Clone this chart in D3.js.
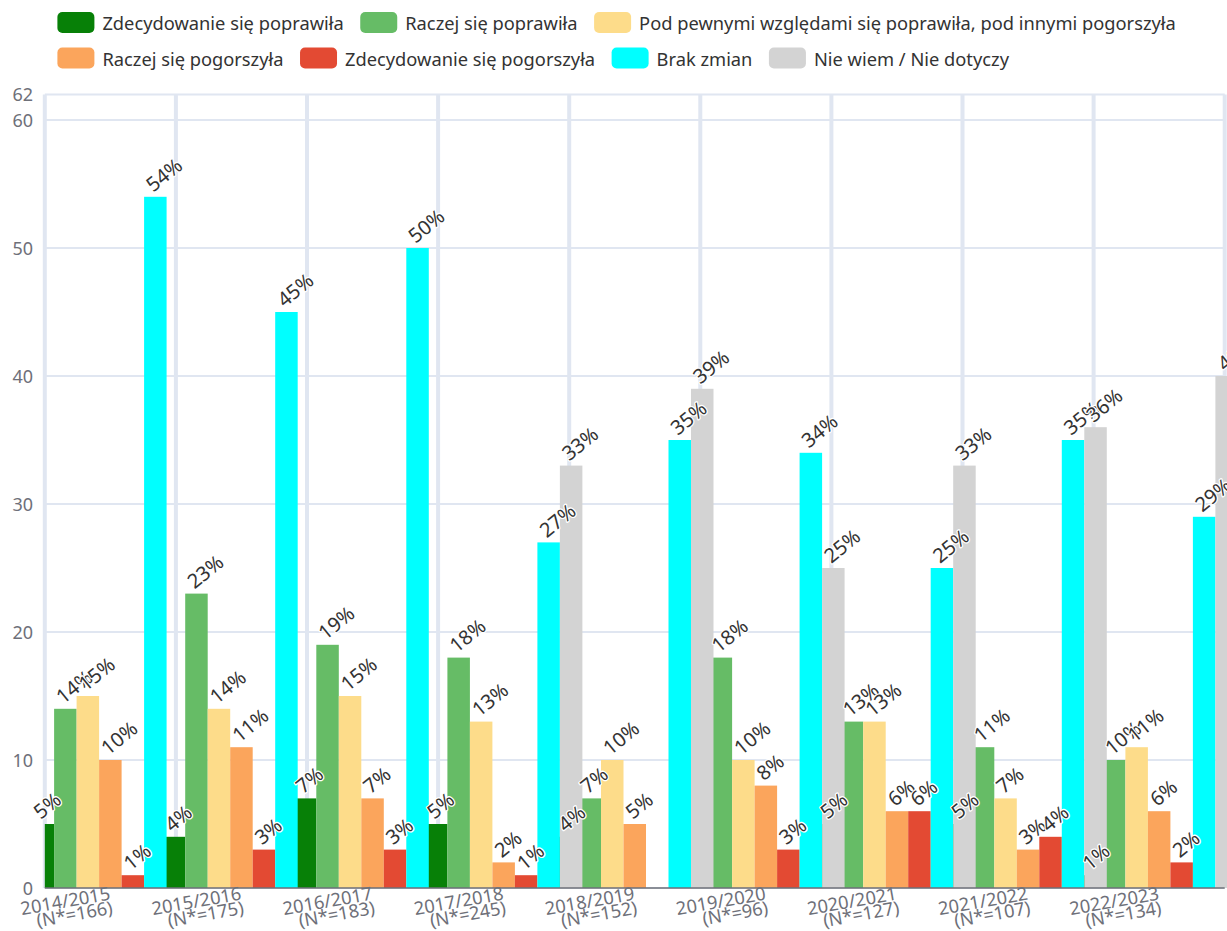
<!DOCTYPE html>
<html>
<head>
<meta charset="utf-8">
<script src="https://cdn.jsdelivr.net/npm/d3@7/dist/d3.min.js"></script>
<style>
  html, body { margin: 0; padding: 0; background: #ffffff; }
  svg { display: block; }
  text { font-family: "Noto Sans", "Open Sans", sans-serif; }
</style>
</head>
<body>
<svg id="chart" width="1227" height="931"></svg>
<script>
// ---------------- data ----------------
const categories = [
  "2014/2015\n(N*=166)", "2015/2016\n(N*=175)", "2016/2017\n(N*=183)",
  "2017/2018\n(N*=245)", "2018/2019\n(N*=152)", "2019/2020\n(N*=96)",
  "2020/2021\n(N*=127)", "2021/2022\n(N*=107)", "2022/2023\n(N*=134)"
];
const seriesNames = [
  "Zdecydowanie się poprawiła",
  "Raczej się poprawiła",
  "Pod pewnymi względami się poprawiła, pod innymi pogorszyła",
  "Raczej się pogorszyła",
  "Zdecydowanie się pogorszyła",
  "Brak zmian",
  "Nie wiem / Nie dotyczy"
];
const seriesColors = ["#078007", "#66bc66", "#fddc8a", "#fba55c", "#e34a33", "#00ffff", "#d3d3d3"];

const definitelyBetter = [5, 4, 7, 5, 4, null, 5, 5, 1];
const ratherBetter     = [14, 23, 19, 18, 7, 18, 13, 11, 10];
const mixed            = [15, 14, 15, 13, 10, 10, 13, 7, 11];
const ratherWorse      = [10, 11, 7, 2, 5, 8, 6, 3, 6];
const definitelyWorse  = [1, 3, 3, 1, null, 3, 6, 4, 2];
const noChange         = [54, 45, 50, 27, 35, 34, 25, 35, 29];
const dontKnow         = [null, null, null, 33, 39, 25, 33, 36, 40];

const seriesValues = [definitelyBetter, ratherBetter, mixed, ratherWorse, definitelyWorse, noChange, dontKnow];
const yTicks = [0, 10, 20, 30, 40, 50, 60, 62];
const legendRows = [[0, 1, 2], [3, 4, 5, 6]];

// ---------------- layout ----------------
const svg = d3.select("#chart");
const W = 1227, H = 931;
const grid = { left: 44.8, right: 1224.7, top: 94.4, bottom: 888 };

const x = d3.scaleBand().domain(d3.range(categories.length)).range([grid.left, grid.right]).padding(0);
const y = d3.scaleLinear().domain([0, 62]).range([grid.bottom, grid.top]);
const barW = x.bandwidth() * 0.1716;
const nS = seriesNames.length;
const barX = (ci, si) => x(ci) + x.bandwidth() / 2 + (si - nS / 2) * barW;

const axisColor = "#6e7079";
const splitColor = "#e0e6f1";

// horizontal split lines
svg.append("g").selectAll("line").data(yTicks).join("line")
  .attr("x1", grid.left).attr("x2", grid.right)
  .attr("y1", d => y(d)).attr("y2", d => y(d))
  .attr("stroke", splitColor).attr("stroke-width", 2);

// vertical split lines (category boundaries)
const bounds = d3.range(categories.length + 1).map(i => grid.left + i * x.bandwidth());
svg.append("g").selectAll("line").data(bounds).join("line")
  .attr("x1", d => d).attr("x2", d => d)
  .attr("y1", grid.top).attr("y2", grid.bottom)
  .attr("stroke", splitColor).attr("stroke-width", 4);

// y labels
svg.append("g").selectAll("text").data(yTicks).join("text")
  .attr("x", 33).attr("y", d => y(d))
  .attr("text-anchor", "end").attr("dominant-baseline", "central")
  .attr("font-size", 18).attr("fill", axisColor)
  .text(d => d);

// bars (clipped to grid)
svg.append("defs").append("clipPath").attr("id", "gridClip")
  .append("rect").attr("x", grid.left).attr("y", 0).attr("width", W - grid.left).attr("height", grid.bottom);

const barsG = svg.append("g").attr("clip-path", "url(#gridClip)");
seriesValues.forEach((vals, si) => {
  barsG.append("g").selectAll("rect")
    .data(vals.map((v, ci) => ({ v, ci })).filter(d => d.v != null))
    .join("rect")
    .attr("x", d => barX(d.ci, si))
    .attr("width", barW)
    .attr("y", d => y(d.v))
    .attr("height", d => y(0) - y(d.v))
    .attr("fill", seriesColors[si]);
});

// x axis line
svg.append("line")
  .attr("x1", grid.left).attr("x2", grid.right)
  .attr("y1", grid.bottom).attr("y2", grid.bottom)
  .attr("stroke", axisColor).attr("stroke-width", 1.5);

// x labels
const xl = svg.append("g").selectAll("g").data(categories).join("g")
  .attr("transform", (d, i) => `translate(${x(i) + x.bandwidth() / 2 + 0.5},899) rotate(-10)`);
xl.append("text")
  .attr("text-anchor", "end").attr("font-size", 18.3).attr("fill", axisColor)
  .selectAll("tspan").data(d => d.split("\n")).join("tspan")
  .attr("x", 0).attr("y", (d, i) => i === 0 ? -7 : 7.5)
  .attr("dominant-baseline", "central")
  .text(d => d);

// value labels
const labG = svg.append("g");
seriesValues.forEach((vals, si) => {
  labG.append("g").selectAll("text")
    .data(vals.map((v, ci) => ({ v, ci })).filter(d => d.v != null))
    .join("text")
    .attr("transform", d => `translate(${barX(d.ci, si) + barW / 2 - 2},${y(d.v) - 4}) rotate(-39)`)
    .attr("font-size", 20).attr("fill", "#333333")
    .attr("stroke", "#ffffff").attr("stroke-width", 2.5).attr("paint-order", "stroke")
    .attr("stroke-linejoin", "round")
    .text(d => d.v + "%");
});

// legend
const legend = svg.append("g");
const rowY = [22.5, 58];
legendRows.forEach((row, ri) => {
  let cx = 57.4;
  row.forEach(si => {
    const g = legend.append("g");
    g.append("rect").attr("x", cx).attr("y", rowY[ri] - 10.5)
      .attr("width", 37).attr("height", 21).attr("rx", 5).attr("ry", 5)
      .attr("fill", seriesColors[si]);
    const t = g.append("text").attr("x", cx + 45).attr("y", rowY[ri])
      .attr("dominant-baseline", "central").attr("font-size", 18.3).attr("fill", "#333333")
      .text(seriesNames[si]);
    cx = cx + 45 + t.node().getComputedTextLength() + 16.5;
  });
});
</script>
</body>
</html>
